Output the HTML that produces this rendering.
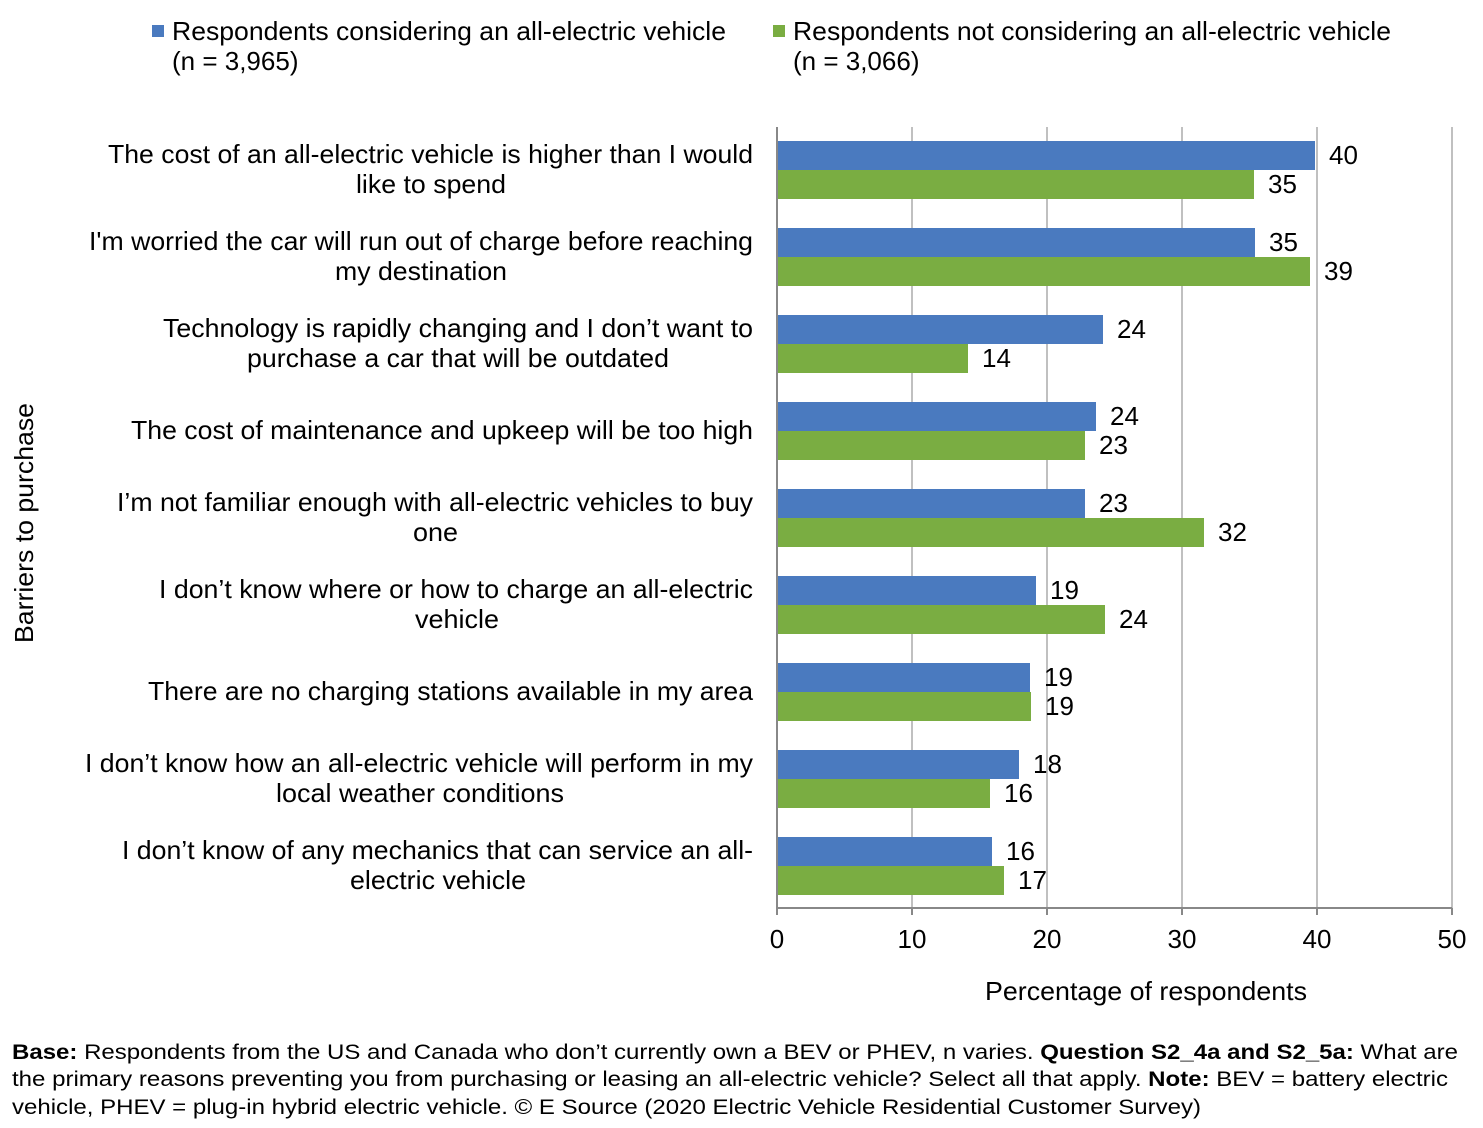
<!DOCTYPE html>
<html><head><meta charset="utf-8"><style>body{margin:0;background:#fff}svg{display:block}text{font-family:"Liberation Sans",sans-serif;fill:#000}</style></head><body>
<svg width="1483" height="1128" viewBox="0 0 1483 1128" xmlns="http://www.w3.org/2000/svg">
<g font-size="26">
<rect x="152" y="25" width="12" height="12" fill="#4A7ABF"/>
<text x="172" y="40" textLength="554" lengthAdjust="spacingAndGlyphs">Respondents considering an all-electric vehicle</text>
<text x="172" y="70">(n = 3,965)</text>
<rect x="773" y="25" width="12" height="12" fill="#7AAD42"/>
<text x="793" y="40" textLength="598" lengthAdjust="spacingAndGlyphs">Respondents not considering an all-electric vehicle</text>
<text x="793" y="70">(n = 3,066)</text>
</g>
<g stroke="#c0c0c0" stroke-width="2">
<line x1="912" y1="127" x2="912" y2="908"/><line x1="1047" y1="127" x2="1047" y2="908"/><line x1="1182" y1="127" x2="1182" y2="908"/><line x1="1317" y1="127" x2="1317" y2="908"/><line x1="1452" y1="127" x2="1452" y2="908"/>
</g>
<g fill="#4A7ABF">
<rect x="778" y="141" width="537" height="29"/><rect x="778" y="228" width="477" height="29"/><rect x="778" y="315" width="325" height="29"/><rect x="778" y="402" width="318" height="29"/><rect x="778" y="489" width="307" height="29"/><rect x="778" y="576" width="258" height="29"/><rect x="778" y="663" width="252" height="29"/><rect x="778" y="750" width="241" height="29"/><rect x="778" y="837" width="214" height="29"/>
</g>
<g fill="#7AAD42">
<rect x="778" y="170" width="476" height="29"/><rect x="778" y="257" width="532" height="29"/><rect x="778" y="344" width="190" height="29"/><rect x="778" y="431" width="307" height="29"/><rect x="778" y="518" width="426" height="29"/><rect x="778" y="605" width="327" height="29"/><rect x="778" y="692" width="253" height="29"/><rect x="778" y="779" width="212" height="29"/><rect x="778" y="866" width="226" height="29"/>
</g>
<g stroke="#888" stroke-width="2">
<line x1="777" y1="127" x2="777" y2="909"/><line x1="776" y1="908" x2="1452" y2="908"/>
<line x1="777" y1="908" x2="777" y2="915"/><line x1="912" y1="908" x2="912" y2="915"/><line x1="1047" y1="908" x2="1047" y2="915"/><line x1="1182" y1="908" x2="1182" y2="915"/><line x1="1317" y1="908" x2="1317" y2="915"/><line x1="1452" y1="908" x2="1452" y2="915"/>
</g>
<g font-size="26">
<text x="1329" y="164">40</text><text x="1268" y="193">35</text>
<text x="1269" y="251">35</text><text x="1324" y="280">39</text>
<text x="1117" y="338">24</text><text x="982" y="367">14</text>
<text x="1110" y="425">24</text><text x="1099" y="454">23</text>
<text x="1099" y="512">23</text><text x="1218" y="541">32</text>
<text x="1050" y="599">19</text><text x="1119" y="628">24</text>
<text x="1044" y="686">19</text><text x="1045" y="715">19</text>
<text x="1033" y="773">18</text><text x="1004" y="802">16</text>
<text x="1006" y="860">16</text><text x="1018" y="889">17</text>
</g>
<g font-size="26" text-anchor="middle">
<text x="777" y="948">0</text><text x="912" y="948">10</text><text x="1047" y="948">20</text><text x="1182" y="948">30</text><text x="1317" y="948">40</text><text x="1452" y="948">50</text>
<text x="1146" y="1000" textLength="322" lengthAdjust="spacingAndGlyphs">Percentage of respondents</text>
<text transform="translate(33,523) rotate(-90)" textLength="240" lengthAdjust="spacingAndGlyphs">Barriers to purchase</text>
</g>
<g font-size="26" lengthAdjust="spacingAndGlyphs">
<text x="108" y="163" textLength="645" lengthAdjust="spacingAndGlyphs">The cost of an all-electric vehicle is higher than I would</text>
<text x="356" y="193" textLength="150" lengthAdjust="spacingAndGlyphs">like to spend</text>
<text x="89" y="250" textLength="664" lengthAdjust="spacingAndGlyphs">I'm worried the car will run out of charge before reaching</text>
<text x="335" y="280" textLength="172" lengthAdjust="spacingAndGlyphs">my destination</text>
<text x="163" y="337" textLength="590" lengthAdjust="spacingAndGlyphs">Technology is rapidly changing and I don’t want to</text>
<text x="247" y="367" textLength="422" lengthAdjust="spacingAndGlyphs">purchase a car that will be outdated</text>
<text x="131" y="439" textLength="622" lengthAdjust="spacingAndGlyphs">The cost of maintenance and upkeep will be too high</text>
<text x="117" y="511" textLength="636" lengthAdjust="spacingAndGlyphs">I’m not familiar enough with all-electric vehicles to buy</text>
<text x="413" y="541" textLength="45" lengthAdjust="spacingAndGlyphs">one</text>
<text x="159" y="598" textLength="594" lengthAdjust="spacingAndGlyphs">I don’t know where or how to charge an all-electric</text>
<text x="415" y="628" textLength="84" lengthAdjust="spacingAndGlyphs">vehicle</text>
<text x="148" y="700" textLength="605" lengthAdjust="spacingAndGlyphs">There are no charging stations available in my area</text>
<text x="85" y="772" textLength="668" lengthAdjust="spacingAndGlyphs">I don’t know how an all-electric vehicle will perform in my</text>
<text x="276" y="802" textLength="288" lengthAdjust="spacingAndGlyphs">local weather conditions</text>
<text x="122" y="859" textLength="631" lengthAdjust="spacingAndGlyphs">I don’t know of any mechanics that can service an all-</text>
<text x="350" y="889" textLength="176" lengthAdjust="spacingAndGlyphs">electric vehicle</text>
</g>
<g font-size="21.5">
<text x="12" y="1059" textLength="1446" lengthAdjust="spacingAndGlyphs"><tspan font-weight="bold">Base:</tspan> Respondents from the US and Canada who don’t currently own a BEV or PHEV, n varies. <tspan font-weight="bold">Question S2_4a and S2_5a:</tspan> What are</text>
<text x="12" y="1086" textLength="1436" lengthAdjust="spacingAndGlyphs">the primary reasons preventing you from purchasing or leasing an all-electric vehicle? Select all that apply. <tspan font-weight="bold">Note:</tspan> BEV = battery electric</text>
<text x="12" y="1114" textLength="1189" lengthAdjust="spacingAndGlyphs">vehicle, PHEV = plug-in hybrid electric vehicle. © E Source (2020 Electric Vehicle Residential Customer Survey)</text>
</g>
</svg>
</body></html>
